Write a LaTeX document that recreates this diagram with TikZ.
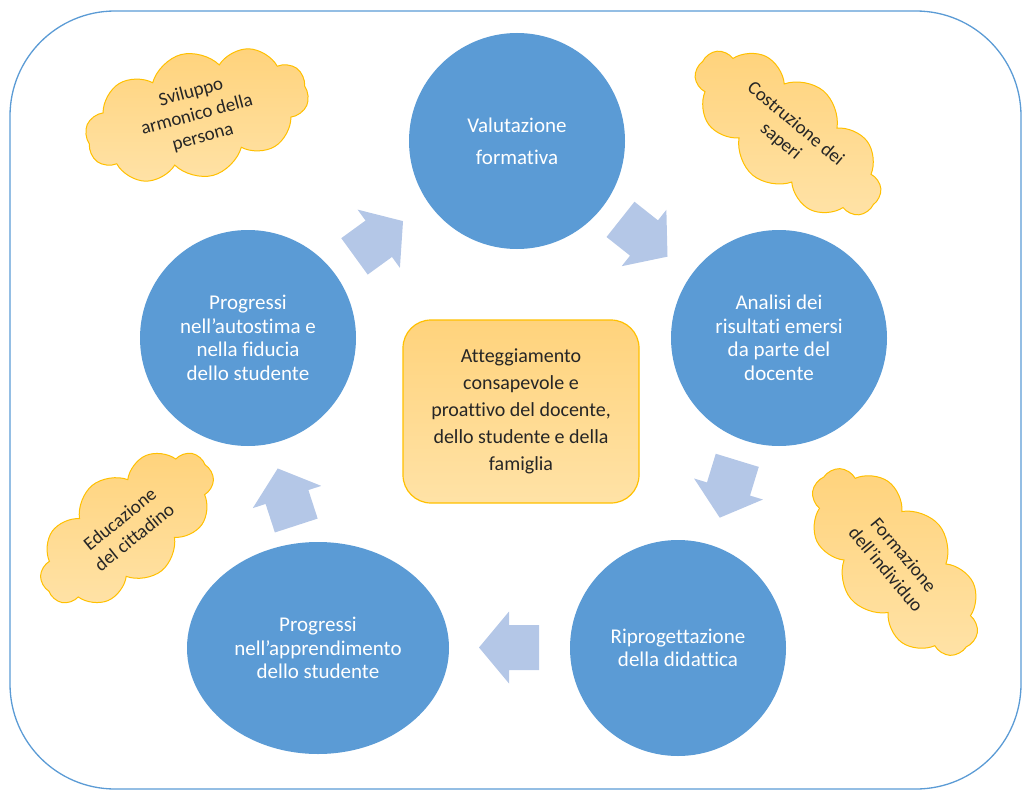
\documentclass[tikz,border=0pt]{standalone}
\usepackage{fontspec}
\setmainfont{Carlito}[Ligatures=NoCommon]
\usetikzlibrary{shapes.geometric,shapes.symbols}
\definecolor{cblue}{HTML}{5B9BD5}
\definecolor{ablue}{HTML}{B4C7E7}
\definecolor{gold}{HTML}{FFC000}
\definecolor{lightA}{HTML}{FFD37C}
\definecolor{lightB}{HTML}{FFE2A6}
\definecolor{txtdark}{HTML}{262626}
\begin{document}
\begin{tikzpicture}[x=1pt,y=-1pt,
  bub/.style={circle, fill=cblue, minimum size=216, inner sep=0pt, text=white, align=center,
    font=\fontsize{21}{23.5}\selectfont},
  centrebox/.style={rectangle, rounded corners=28pt, draw=gold, line width=1.2pt,
    top color=lightA, bottom color=lightB, minimum width=236, minimum height=183,
    align=center, text=txtdark, font=\fontsize{20}{27}\selectfont},
  cl/.style={cloud, cloud puffs=10, cloud puff arc=120, cloud ignores aspect, draw=gold, line width=1pt,
    top color=lightA, bottom color=lightB, align=center, text=txtdark, inner sep=0pt,
    font=\fontsize{19}{23}\selectfont},
  pics/barrow/.style={code={\fill[ablue] (-30,-22.5) -- (0,-22.5) -- (0,-36) -- (30,0) -- (0,36) -- (0,22.5) -- (-30,22.5) -- cycle;}}
]
\useasboundingbox (0,0) rectangle (1023,792);
\draw[cblue, line width=1.3pt, rounded corners=105pt] (10,11) rectangle (1021,789);

% main cycle
\node[bub] (val) at (517,141) {Valutazione\\[8.5pt]formativa};
\node[bub] (ana) at (779,338) {Analisi dei\\risultati emersi\\da parte del\\docente};
\node[bub] (rip) at (678,648) {Riprogettazione\\della didattica};
\node[bub, ellipse, minimum width=262, minimum height=212] (app) at (318,648) {Progressi\\nell’apprendimento\\dello studente};
\node[bub] (aut) at (248,338) {Progressi\\nell’autostima e\\nella fiducia\\dello studente};

% centre
\node[centrebox] (att) at (521,411.5) {Atteggiamento\\consapevole e\\proattivo del docente,\\dello studente e della\\famiglia};

% block arrows
\pic[rotate=36] at (378.75,238.75) {barrow};
\pic[rotate=-38.4] at (644,238) {barrow};
\pic[rotate=-107] at (728.5,489) {barrow};
\pic[rotate=180] at (509,647.5) {barrow};
\pic[rotate=108] at (287,497) {barrow};

% clouds
\node[cl, rotate=15, minimum width=228, minimum height=125] (c1) at (197,115) {Sviluppo\\armonico della\\persona};
\node[cl, rotate=-40, minimum width=225, minimum height=110] (c2) at (788,133) {Costruzione dei\\saperi};
\node[cl, rotate=39, minimum width=205, minimum height=110] (c3) at (127,528) {Educazione\\del cittadino};
\node[cl, rotate=-50, minimum width=225, minimum height=115] (c4) at (895,562) {Formazione\\dell’individuo};
\end{tikzpicture}
\end{document}
